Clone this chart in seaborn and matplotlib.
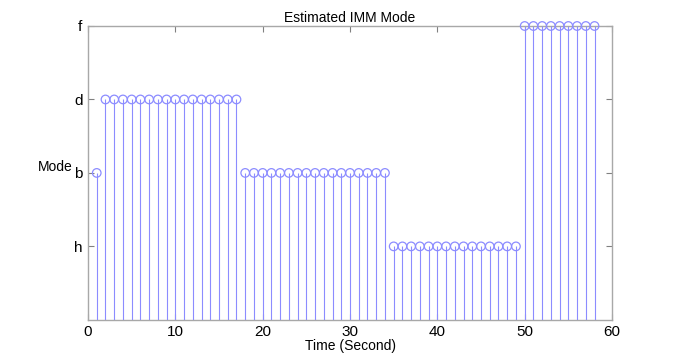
import matplotlib
matplotlib.use('Agg')
import matplotlib.pyplot as plt
import seaborn as sns
import pandas as pd

# estimated mode per second (1 = h, 2 = b, 3 = d, 4 = f)
time_s = list(range(1, 59))
mode_level = [2] + [3] * 16 + [2] * 17 + [1] * 15 + [4] * 9
mode_names = ['h', 'b', 'd', 'f']
mode_ticks = [1, 2, 3, 4]
x_ticks = [0, 10, 20, 30, 40, 50, 60]

df = pd.DataFrame({'t': time_s, 'mode': mode_level})

sns.set_style('white')
plt.rcParams['font.family'] = ['Liberation Sans', 'DejaVu Sans']
plt.rcParams['text.color'] = 'black'
plt.rcParams['axes.labelcolor'] = 'black'
plt.rcParams['xtick.labelcolor'] = 'black'
plt.rcParams['ytick.labelcolor'] = 'black'

fig = plt.figure(figsize=(6.77, 3.61), dpi=100)
ax = fig.add_axes([0.13, 0.114, 0.774, 0.814])

stem_col = '#8c8cff'
ax.vlines(df['t'], 0, df['mode'], color=stem_col, linewidth=0.8, zorder=2)
sns.scatterplot(data=df, x='t', y='mode', ax=ax, marker='o', s=38,
                facecolors='none', edgecolor=stem_col, linewidth=0.9, zorder=3,
                clip_on=False)

ax.set_xlim(0, 60)
ax.set_ylim(0, 4)
ax.set_xticks(x_ticks)
ax.set_yticks(mode_ticks)
ax.set_yticklabels(mode_names)

for sp in ax.spines.values():
    sp.set_color('#a8a8a8')
    sp.set_linewidth(1.0)
    sp.set_zorder(1)
ax.tick_params(direction='in', length=4, width=0.8, color='#808080',
               labelsize=11, top=True, right=True, bottom=True, left=True, pad=4)

ax.set_title('Estimated IMM Mode', fontsize=10, pad=3)
ax.set_xlabel('Time (Second)', fontsize=10, labelpad=0)
ax.set_ylabel('Mode', fontsize=10, rotation=0, va='center', ha='center')
ax.yaxis.set_label_coords(-0.062, 0.52)

fig.savefig('out.png', dpi=100)
